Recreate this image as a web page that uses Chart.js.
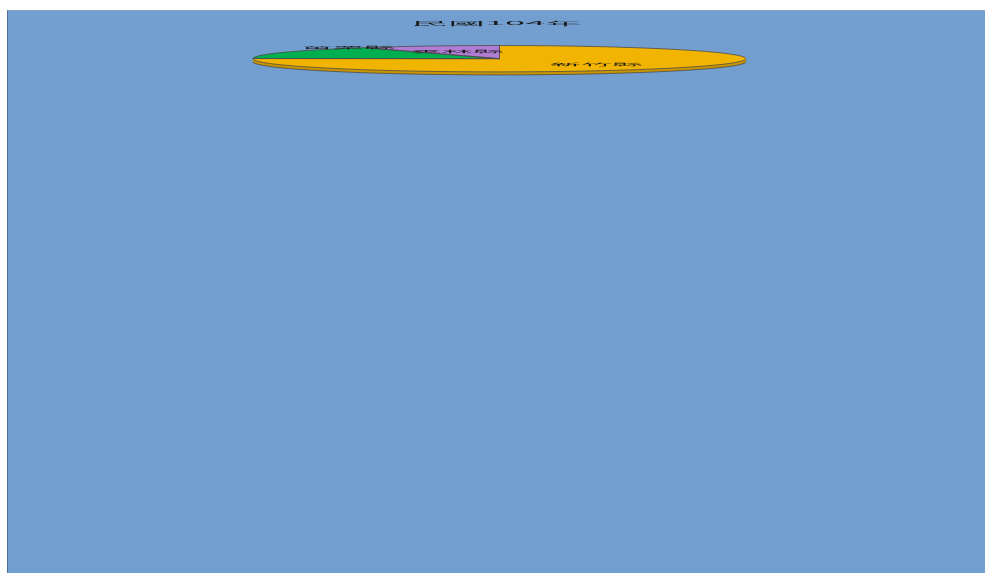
<!DOCTYPE html>
<html><head><meta charset="utf-8">
<script src="https://cdn.jsdelivr.net/npm/chart.js@4"></script>
<style>
html,body{margin:0;padding:0;background:#fff;width:985px;height:573px;overflow:hidden}
#frame{position:absolute;left:7px;top:10px;width:984px;height:569px;background:#729FCF;border-left:1px solid #4F6E98;border-top:1px solid #8AA3C4;}
canvas{position:absolute;left:0;top:0}
</style></head><body>
<div id="frame"><canvas id="c" width="978" height="563"></canvas></div>
<script>
// ---- data ----
const TITLE = '民國104年';
const CATEGORIES = ['新竹縣', '苗栗縣', '雲林縣'];
const VALUES = [75.2, 15.6, 9.2];

// ---- styles ----
const TOP_COLORS = ['#F1B400', '#00B050', '#B07CD4'];
const SIDE_COLORS = ['#C99500', '#00873D', '#8A5CAE'];
const EDGE = '#4d4d4d';
const RY = 13.2;      // flattened vertical radius
const CY = 47.7;      // vertical centre of the flattened pie
const DEPTH = 3;      // 3-D thickness
const LABEL_R = [0.56, 0.70, 0.60];
const LABEL_DY = [1, -7, 0];
const STRETCH_X = 2.6, STRETCH_Y = 0.33;
const FONT = '"Noto Sans CJK TC", "Noto Sans", sans-serif';

function flat(ctx, a, k, dy) {
  ctx.translate(0, CY + dy);
  ctx.scale(1, k);
  ctx.translate(0, -a.y);
}
function stretchedText(ctx, text, x, y, size) {
  ctx.save();
  ctx.translate(x, y);
  ctx.scale(STRETCH_X, STRETCH_Y);
  ctx.font = size + 'px ' + FONT;
  ctx.fillStyle = '#1a1a1a';
  ctx.textAlign = 'center';
  ctx.textBaseline = 'middle';
  ctx.fillText(text, 0, 0);
  ctx.restore();
}

const pie3d = {
  id: 'pie3d',
  beforeDatasetsDraw(chart) {
    const ctx = chart.ctx, arcs = chart.getDatasetMeta(0).data;
    const k = RY / arcs[0].outerRadius;
    // side walls
    for (let d = DEPTH; d >= 0.5; d -= 0.5) {
      ctx.save(); flat(ctx, arcs[0], k, d);
      arcs.forEach((a, i) => {
        ctx.beginPath(); ctx.moveTo(a.x, a.y);
        ctx.arc(a.x, a.y, a.outerRadius, a.startAngle, a.endAngle);
        ctx.closePath(); ctx.fillStyle = SIDE_COLORS[i]; ctx.fill();
      });
      ctx.restore();
    }
    // bottom outline
    ctx.save(); flat(ctx, arcs[0], k, DEPTH);
    ctx.beginPath(); ctx.arc(arcs[0].x, arcs[0].y, arcs[0].outerRadius, 0, Math.PI);
    ctx.restore();
    ctx.save(); ctx.lineWidth = 0.8; ctx.strokeStyle = EDGE; ctx.stroke(); ctx.restore();
    // flatten the top face drawn by Chart.js
    ctx.save(); flat(ctx, arcs[0], k, 0);
  },
  afterDatasetsDraw(chart) {
    const ctx = chart.ctx, arcs = chart.getDatasetMeta(0).data;
    ctx.restore();
    const k = RY / arcs[0].outerRadius;
    ctx.save(); flat(ctx, arcs[0], k, 0);
    ctx.beginPath();
    arcs.forEach(a => {
      ctx.moveTo(a.x, a.y);
      ctx.arc(a.x, a.y, a.outerRadius, a.startAngle, a.endAngle);
      ctx.closePath();
    });
    ctx.restore();
    ctx.save(); ctx.lineWidth = 0.8; ctx.strokeStyle = EDGE; ctx.stroke(); ctx.restore();
  },
  afterDraw(chart) {
    const ctx = chart.ctx, arcs = chart.getDatasetMeta(0).data;
    arcs.forEach((a, i) => {
      const mid = (a.startAngle + a.endAngle) / 2;
      const x = a.x + Math.cos(mid) * a.outerRadius * LABEL_R[i];
      const y = CY + Math.sin(mid) * RY * LABEL_R[i] + LABEL_DY[i];
      stretchedText(ctx, chart.data.labels[i], x, y, 12);
    });
    stretchedText(ctx, TITLE, chart.width / 2, 12.5, 14);
  }
};

new Chart(document.getElementById('c'), {
  type: 'pie',
  data: {
    labels: CATEGORIES,
    datasets: [{ data: VALUES, backgroundColor: TOP_COLORS, borderWidth: 0, clip: false }]
  },
  options: {
    responsive: false,
    animation: false,
    events: [],
    radius: 246.5,
    layout: { padding: { left: 5, right: 0, top: 0, bottom: 0 } },
    plugins: { legend: { display: false }, tooltip: { enabled: false }, title: { display: false } }
  },
  plugins: [pie3d]
});
</script></body></html>
